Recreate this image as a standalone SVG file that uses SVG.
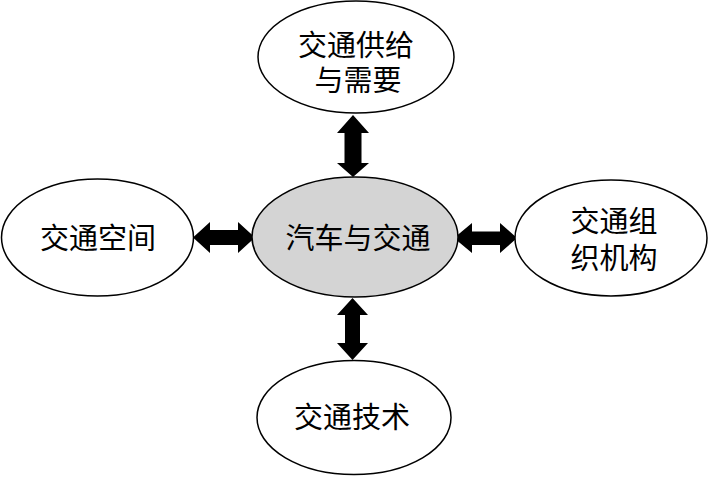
<svg xmlns="http://www.w3.org/2000/svg" width="708" height="477" viewBox="0 0 708 477">
<style>
.n{fill:#fff;stroke:#000;stroke-width:1.5}
.c{fill:#d4d4d4;stroke:#000;stroke-width:1.5}
.t{font-family:"Noto Sans CJK SC","Noto Sans",sans-serif;font-size:29px;fill:#000;text-anchor:middle}
.a{fill:#000}
</style>
<rect width="708" height="477" fill="#fff"/>
<g id="connectors">
<polygon class="a" points="353,115 369,133 361.5,133 361.5,163 369,163 353,177 337,163 344.5,163 344.5,133 337,133"/>
<polygon class="a" points="352.5,298 368,315 360,315 360,343 368,343 352.5,360 337,343 345,343 345,315 337,315"/>
<polygon class="a" points="193,237.5 210,222 210,230 238,230 238,222 255,237.5 238,253 238,245 210,245 210,253"/>
<polygon class="a" points="454,238 472,223 472,231.5 500,231.5 500,223 517,238 500,253 500,245 472,245 472,253"/>
</g>
<g id="top">
<ellipse class="n" cx="356" cy="57" rx="98" ry="56"/>
<text class="t"><tspan x="356" y="56">交通供给</tspan><tspan x="358" y="91">与需要</tspan></text>
</g>
<g id="left">
<ellipse class="n" cx="97.5" cy="237.5" rx="96" ry="58.5"/>
<text class="t" x="98" y="249">交通空间</text>
</g>
<g id="center">
<ellipse class="c" cx="355" cy="237" rx="103" ry="60"/>
<text class="t" x="358" y="249">汽车与交通</text>
</g>
<g id="right">
<ellipse class="n" cx="611" cy="238" rx="96" ry="58"/>
<text class="t"><tspan x="614" y="232">交通组</tspan><tspan x="614" y="269">织机构</tspan></text>
</g>
<g id="bottom">
<ellipse class="n" cx="354" cy="417.5" rx="97" ry="57"/>
<text class="t" x="352" y="428">交通技术</text>
</g>
</svg>
